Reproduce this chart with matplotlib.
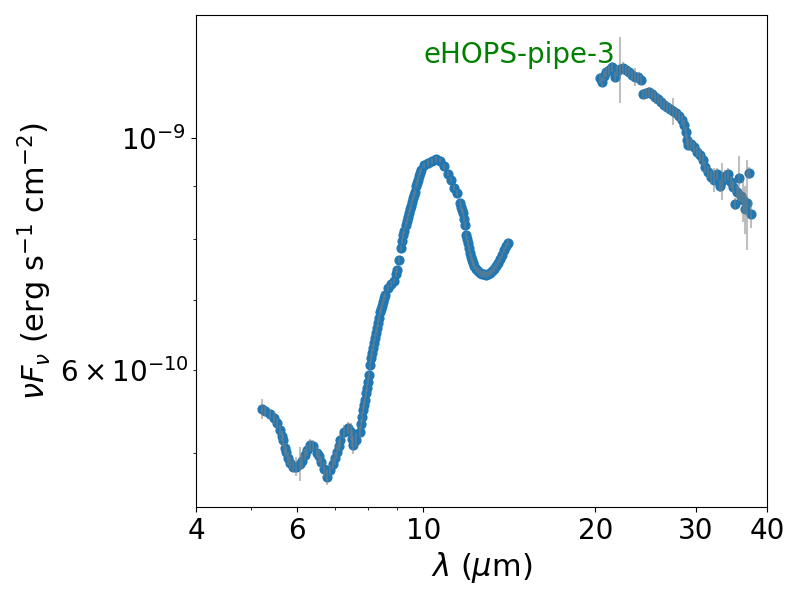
import matplotlib
matplotlib.use("Agg")
import matplotlib.pyplot as plt
from matplotlib.ticker import NullFormatter
import numpy as np

# Segment 1: IRS short-wavelength part (wavelength in micron, nuFnu in 1e-10 erg/s/cm2)
wave1 = [5.22, 5.28, 5.39, 5.48, 5.55, 5.61, 5.66, 5.68, 5.73, 5.75, 5.80, 5.84,
         5.92, 5.99, 6.08, 6.13, 6.21, 6.26, 6.34, 6.41, 6.52, 6.57, 6.62, 6.70,
         6.78, 6.87, 6.95, 7.01, 7.06, 7.12, 7.15, 7.27, 7.38, 7.47, 7.50, 7.53,
         7.63, 7.75, 7.78, 7.81, 7.84, 7.88, 7.91, 7.94, 7.97, 8.00, 8.04, 8.07,
         8.10, 8.13, 8.17, 8.20, 8.23, 8.27, 8.30, 8.33, 8.37, 8.40, 8.43, 8.47,
         8.50, 8.54, 8.57, 8.68, 8.78, 8.89, 8.96, 9.00, 9.07, 9.14, 9.18, 9.22,
         9.25, 9.33, 9.37, 9.40, 9.44, 9.48, 9.52, 9.56, 9.60, 9.64, 9.67, 9.71,
         9.75, 9.79, 9.83, 9.87, 9.91, 10.03, 10.19, 10.36, 10.53, 10.70, 10.87,
         11.05, 11.19, 11.32, 11.46, 11.60, 11.65, 11.69, 11.74, 11.79, 11.84,
         11.88, 11.93, 11.98, 12.03, 12.08, 12.12, 12.17, 12.22, 12.27, 12.37,
         12.47, 12.57, 12.67, 12.78, 12.88, 12.99, 13.09, 13.20, 13.30, 13.41,
         13.52, 13.63, 13.74, 13.85, 13.96, 14.08]
flux1 = [5.51, 5.48, 5.45, 5.40, 5.34, 5.26, 5.19, 5.14, 5.05, 5.01, 4.94, 4.89,
         4.85, 4.85, 4.88, 4.91, 4.98, 5.03, 5.09, 5.08, 5.00, 4.96, 4.90, 4.82,
         4.74, 4.81, 4.88, 4.94, 5.01, 5.08, 5.14, 5.24, 5.28, 5.24, 5.16, 5.09,
         5.14, 5.24, 5.33, 5.41, 5.50, 5.56, 5.62, 5.71, 5.77, 5.85, 5.93, 6.07,
         6.16, 6.23, 6.30, 6.37, 6.44, 6.51, 6.58, 6.65, 6.73, 6.82, 6.86, 6.91,
         6.97, 7.03, 7.08, 7.19, 7.25, 7.30, 7.41, 7.48, 7.65, 7.85, 7.97, 8.08,
         8.15, 8.26, 8.33, 8.40, 8.48, 8.55, 8.61, 8.69, 8.76, 8.82, 8.88, 9.00,
         9.06, 9.12, 9.20, 9.26, 9.32, 9.42, 9.47, 9.51, 9.55, 9.51, 9.40,
         9.24, 9.12, 8.96, 8.86, 8.67, 8.59, 8.53, 8.48, 8.37, 8.26,
         8.08, 8.01, 7.94, 7.85, 7.76, 7.70, 7.65, 7.60, 7.55, 7.50,
         7.46, 7.43, 7.41, 7.41, 7.40, 7.41, 7.43, 7.46, 7.50, 7.55,
         7.60, 7.66, 7.73, 7.82, 7.88, 7.94]
err1 = [0.12, 0.06, 0.06, 0.07, 0.06, 0.06, 0.06, 0.07, 0.06, 0.06, 0.07, 0.06,
        0.06, 0.10, 0.18, 0.07, 0.06, 0.06, 0.07, 0.06, 0.06, 0.07, 0.06, 0.08,
        0.08, 0.06, 0.06, 0.07, 0.08, 0.06, 0.07, 0.08, 0.07, 0.10, 0.10, 0.10,
        0.08, 0.06, 0.06, 0.06, 0.05, 0.05, 0.05, 0.05, 0.05, 0.05, 0.05, 0.05,
        0.05, 0.05, 0.05, 0.05, 0.05, 0.05, 0.05, 0.05, 0.05, 0.05, 0.05, 0.05,
        0.05, 0.05, 0.05, 0.05, 0.05, 0.05, 0.05, 0.05, 0.05, 0.05, 0.05, 0.05,
        0.05, 0.05, 0.05, 0.05, 0.05, 0.05, 0.05, 0.05, 0.05, 0.05, 0.05, 0.05,
        0.05, 0.05, 0.05, 0.05, 0.05, 0.05, 0.06, 0.06, 0.06, 0.05, 0.05,
        0.05, 0.05, 0.05, 0.05, 0.05, 0.05, 0.05, 0.05, 0.05, 0.05,
        0.05, 0.05, 0.05, 0.05, 0.05, 0.05, 0.05, 0.05, 0.05, 0.05,
        0.05, 0.05, 0.05, 0.05, 0.05, 0.05, 0.05, 0.05, 0.05, 0.05,
        0.05, 0.05, 0.05, 0.05, 0.05, 0.05]

# Segment 2: IRS long-wavelength part
wave2 = [20.40, 20.56, 20.73, 20.90, 21.15, 21.41, 21.67, 21.85, 22.11, 22.38,
         22.65, 22.93, 23.21, 23.49, 23.78, 24.07, 24.26, 24.56, 24.86, 25.16,
         25.46, 25.77, 26.09, 26.41, 26.73, 27.05, 27.38, 27.71, 28.05, 28.39,
         28.62, 28.85, 28.97, 29.09, 29.44, 29.80, 30.16, 30.53, 30.90, 31.15,
         31.53, 31.92, 32.30, 32.70, 33.09, 33.36, 33.77, 34.18, 34.60, 34.88,
         35.16, 35.44, 35.73, 36.02, 36.31, 36.61, 36.90, 37.20, 37.50]
flux2 = [11.41, 11.31, 11.46, 11.56, 11.61, 11.69, 11.44, 11.59, 11.64, 11.67,
         11.61, 11.56, 11.49, 11.44, 11.44, 11.36, 11.02, 11.04, 11.07, 11.02,
         10.94, 10.90, 10.82, 10.75, 10.71, 10.66, 10.61, 10.57, 10.50, 10.40,
         10.29, 10.13, 9.96, 9.85, 9.87, 9.80, 9.70, 9.63, 9.53, 9.38,
         9.28, 9.18, 9.12, 9.24, 9.00, 9.10, 9.20, 9.24, 9.08, 8.98,
         8.65, 8.88, 9.16, 8.80, 8.72, 8.55, 8.67, 9.26, 8.46]
err2 = [0.12, 0.12, 0.12, 0.12, 0.12, 0.12, 0.12, 0.12, 0.85, 0.15,
        0.12, 0.12, 0.12, 0.23, 0.12, 0.12, 0.12, 0.12, 0.12, 0.12,
        0.17, 0.12, 0.12, 0.12, 0.12, 0.12, 0.31, 0.12, 0.12, 0.12,
        0.12, 0.12, 0.12, 0.12, 0.12, 0.12, 0.12, 0.12, 0.12, 0.12,
        0.12, 0.12, 0.25, 0.12, 0.12, 0.37, 0.12, 0.12, 0.12, 0.12,
        0.12, 0.12, 0.45, 0.12, 0.40, 0.45, 0.85, 0.12, 0.25]

x_ticks = [4, 6, 10, 20, 30, 40]
x_ticklabels = ["4", "6", "10", "20", "30", "40"]
label = "eHOPS-pipe-3"

scale = 1e-10
wave = np.array(wave1 + wave2)
flux = np.array(flux1 + flux2) * scale
err = np.array(err1 + err2) * scale

fig = plt.figure(figsize=(8, 6), dpi=100)
ax = fig.add_axes([0.245, 0.155, 0.714, 0.82])
ax.scatter(wave, flux, s=40, color="#1f77b4", zorder=2)
ax.errorbar(wave, flux, yerr=err, fmt="none", ecolor="gray", alpha=0.5,
            elinewidth=1.5, zorder=3)
ax.set_xscale("log")
ax.set_yscale("log")
ax.set_xlim(4, 40)
ax.set_ylim(4.438e-10, 1.311e-9)
ax.set_xticks(x_ticks)
ax.set_xticklabels(x_ticklabels)
ax.xaxis.set_minor_formatter(NullFormatter())
ax.tick_params(axis="both", which="both", labelsize=20)
ax.set_xlabel(r"$\lambda$ ($\mu$m)", fontsize=22)
ax.set_ylabel(r"$\nu F_\nu$ (erg s$^{-1}$ cm$^{-2}$)", fontsize=22)
ax.text(0.567, 0.918, label, color="green", fontsize=20, ha="center",
        va="center", transform=ax.transAxes)
fig.savefig("out.png", dpi=100)
